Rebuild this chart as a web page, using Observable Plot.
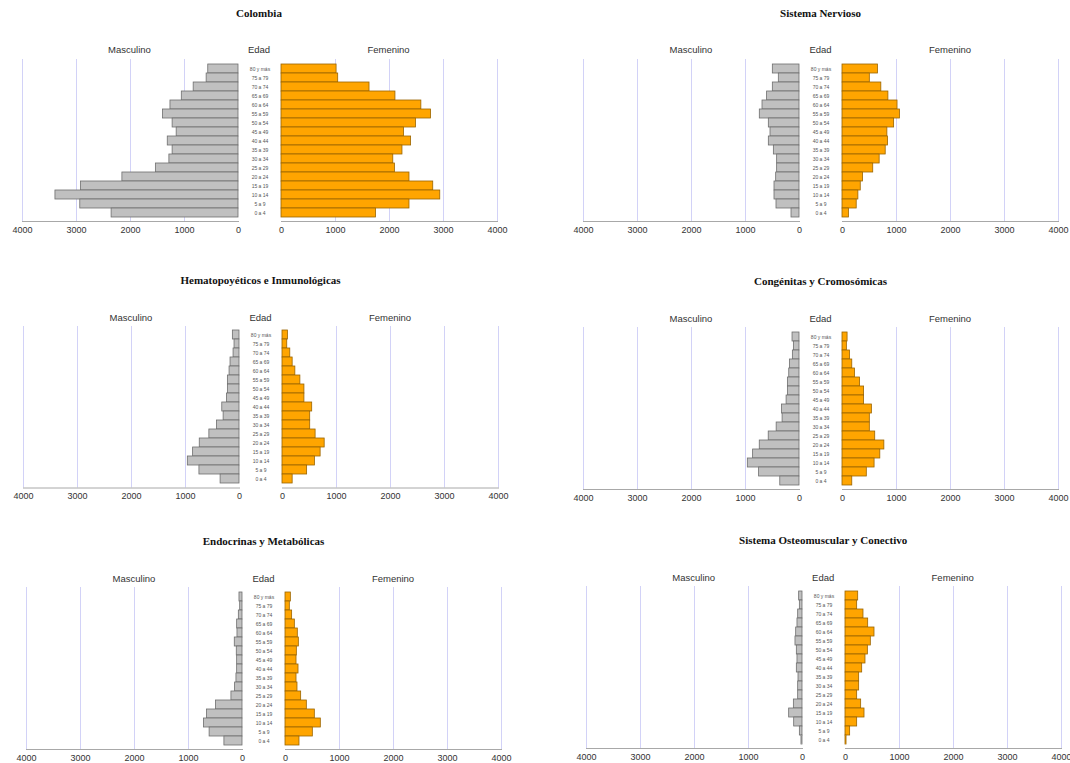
<!DOCTYPE html>
<html><head><meta charset="utf-8">
<script src="https://cdn.jsdelivr.net/npm/d3@7"></script>
<script src="https://cdn.jsdelivr.net/npm/@observablehq/plot@0.6"></script>
<style>
body{margin:0;background:#fff;}
#root{position:relative;width:1070px;height:763px;overflow:hidden;font-family:"Liberation Sans",Arial,sans-serif;}
.title{position:absolute;font-family:"Liberation Serif","Times New Roman",serif;font-weight:bold;font-size:11px;color:#111;transform:translate(-50%,-50%);white-space:nowrap;}
.hdr{position:absolute;font-size:9.5px;color:#333;transform:translate(-50%,-50%);white-space:nowrap;}
.pl{position:absolute;}
</style></head><body><div id="root"></div><script>
// ---- data ----
const ages = ["80 y más","75 a 79","70 a 74","65 a 69","60 a 64","55 a 59","50 a 54","45 a 49","40 a 44","35 a 39","30 a 34","25 a 29","20 a 24","15 a 19","10 a 14","5 a 9","0 a 4"];
const xTicks = [0,1000,2000,3000,4000];
const titles = ["Colombia","Sistema Nervioso","Hematopoyéticos e Inmunológicas","Congénitas y Cromosómicas","Endocrinas y Metabólicas","Sistema Osteomuscular y Conectivo"];
const colombiaM = [560,590,830,1050,1260,1400,1220,1145,1310,1220,1280,1530,2150,2915,3390,2930,2350];
const colombiaF = [1020,1050,1630,2110,2590,2770,2490,2270,2400,2240,2070,2100,2370,2810,2940,2370,1750];
const nerviosoM = [494,383,494,600,685,735,568,537,568,475,414,414,432,463,463,426,148];
const nerviosoF = [656,506,719,850,1019,1063,956,831,844,800,688,569,381,338,294,263,119];
const hematoM = [123,92,110,166,184,215,215,233,319,294,417,558,736,859,957,742,350];
const hematoF = [100,88,144,188,238,331,406,406,550,513,513,613,781,706,600,456,188];
const congenM = [129,104,123,178,190,215,215,239,325,313,423,570,736,859,957,748,356];
const congenF = [94,81,138,181,231,325,400,400,544,506,506,606,775,700,594,450,181];
const endocM = [56,43,68,99,93,143,106,99,99,112,137,205,491,658,714,609,335];
const endocF = [99,80,123,173,228,247,210,204,241,204,222,290,395,543,654,506,259];
const osteoM = [62,49,80,93,117,130,105,93,105,74,80,80,160,247,154,49,19];
const osteoF = [235,216,333,420,537,469,414,370,309,253,253,216,290,352,216,86,19];
const males = [colombiaM, nerviosoM, hematoM, congenM, endocM, osteoM];
const females = [colombiaF, nerviosoF, hematoF, congenF, endocF, osteoF];

// ---- layout (page positions) ----
const layout = [
  {zero:237.5, top:58.5, axis:220.5, ty:13, hy:49},
  {zero:799,   top:58.5, axis:220.5, ty:13, hy:49},
  {zero:239,   top:325.5, axis:487, ty:280, hy:317},
  {zero:799,   top:327, axis:489, ty:281, hy:318},
  {zero:242,   top:586.7, axis:748.7, ty:541, hy:578},
  {zero:801.7, top:586, axis:748, ty:540, hy:577}
];
const PW = 216, GAP = 43, ML = 16, MR = 16, MB = 18;
const root = document.getElementById("root");
const baseStyle = {fontFamily:"Liberation Sans, Arial, sans-serif", fontSize:"9px", color:"#333", background:"transparent", overflow:"visible"};

function addText(cls, txt, x, y){
  const d = document.createElement("div");
  d.className = cls; d.textContent = txt;
  d.style.left = x + "px"; d.style.top = y + "px";
  root.appendChild(d);
}

titles.forEach((t, i) => {
  const L = layout[i];
  const H = L.axis - L.top;
  const mData = ages.map((a, j) => ({age:a, v:males[i][j]}));
  const fData = ages.map((a, j) => ({age:a, v:females[i][j]}));
  addText("title", t, L.zero + GAP/2, L.ty);
  addText("hdr", "Masculino", L.zero - PW/2, L.hy);
  addText("hdr", "Edad", L.zero + GAP/2, L.hy);
  addText("hdr", "Femenino", L.zero + GAP + PW/2, L.hy);

  const left = Plot.plot({
    width: ML + PW + GAP, height: H + MB,
    marginLeft: ML, marginRight: GAP, marginTop: 0, marginBottom: MB,
    style: baseStyle,
    x: {domain:[0,4000], reverse:true, ticks:xTicks, tickSize:0, tickPadding:5, tickFormat:d => String(d), label:null},
    y: {domain:ages, padding:0, axis:null},
    marks: [
      Plot.gridX(xTicks.slice(1), {stroke:"#d2d2f7", strokeOpacity:1, strokeWidth:1}),
      Plot.barX(mData, {x:"v", y:"age", fill:"#c0c0c0", stroke:"#6e6e6e", strokeWidth:0.8}),
      Plot.frame({anchor:"bottom", stroke:"#a8a8a8"}),
      Plot.text(ages, {y:d => d, text:d => d, frameAnchor:"right", dx:GAP/2, textAnchor:"middle", fontSize:5, fill:"#555"})
    ]
  });
  left.classList.add("pl");
  left.style.left = (L.zero - PW - ML) + "px";
  left.style.top = L.top + "px";
  root.appendChild(left);

  const right = Plot.plot({
    width: PW + MR, height: H + MB,
    marginLeft: 0, marginRight: MR, marginTop: 0, marginBottom: MB,
    style: baseStyle,
    x: {domain:[0,4000], ticks:xTicks, tickSize:0, tickPadding:5, tickFormat:d => String(d), label:null},
    y: {domain:ages, padding:0, axis:null},
    marks: [
      Plot.gridX(xTicks.slice(1), {stroke:"#d2d2f7", strokeOpacity:1, strokeWidth:1}),
      Plot.barX(fData, {x:"v", y:"age", fill:"#ffa500", stroke:"#9a6400", strokeWidth:0.8}),
      Plot.frame({anchor:"bottom", stroke:"#a8a8a8"})
    ]
  });
  right.classList.add("pl");
  right.style.left = (L.zero + GAP) + "px";
  right.style.top = L.top + "px";
  root.appendChild(right);
});
</script></body></html>
